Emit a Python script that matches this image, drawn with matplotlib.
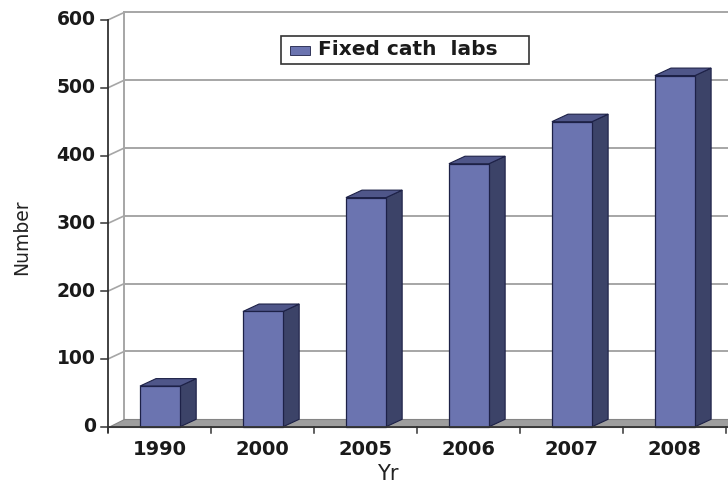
import matplotlib
matplotlib.use("Agg")
import matplotlib.pyplot as plt
from matplotlib.patches import Polygon, Rectangle

YEARS = ["1990", "2000", "2005", "2006", "2007", "2008"]
LABS = [60, 170, 338, 388, 450, 518]
Y_TICKS = [0, 100, 200, 300, 400, 500, 600]

FRONT = "#6b74b0"
SIDE = "#3c4368"
TOP = "#4f5689"
EDGE = "#1d2147"
GRID = "#a6a6a6"
FLOOR = "#9e9e9e"

# pseudo-3D depth offset, in data units
DX, DY = 0.156, 11.0
XMAX = 6.02
BAR_L, BAR_W = 0.31, 0.39

fig = plt.figure(figsize=(7.28, 4.83), dpi=100)
ax = fig.add_axes([0.1484, 0.0884, 0.8516, 0.9054])
ax.set_xlim(0, XMAX)
ax.set_ylim(-20, 625)
ax.axis("off")

# back wall gridlines plus the slanted lines across the left side wall
for v in Y_TICKS[1:]:
    ax.plot([DX, XMAX + DX], [v + DY, v + DY], color=GRID, lw=1.4, zorder=1, clip_on=False)
    ax.plot([0, DX], [v, v + DY], color=GRID, lw=1.2, zorder=1)
ax.plot([DX, DX], [DY, Y_TICKS[-1] + DY], color=GRID, lw=1.4, zorder=1)

# floor
ax.add_patch(Polygon([(0, 0), (XMAX + DX, 0), (XMAX + DX, DY), (DX, DY)],
                     closed=True, facecolor=FLOOR, edgecolor="#858585", lw=0.8,
                     zorder=2, clip_on=False))

# columns: front, top and side faces
for i, v in enumerate(LABS):
    x0 = i + BAR_L
    x1 = x0 + BAR_W
    ax.add_patch(Polygon([(x1, 0), (x1 + DX, DY), (x1 + DX, v + DY), (x1, v)],
                         closed=True, facecolor=SIDE, edgecolor=EDGE, lw=0.8, zorder=3))
    ax.add_patch(Polygon([(x0, v), (x1, v), (x1 + DX, v + DY), (x0 + DX, v + DY)],
                         closed=True, facecolor=TOP, edgecolor=EDGE, lw=0.8, zorder=3))
    ax.add_patch(Polygon([(x0, 0), (x1, 0), (x1, v), (x0, v)],
                         closed=True, facecolor=FRONT, edgecolor=EDGE, lw=0.9, zorder=4))

# axes lines and ticks
ax.plot([0, 0], [-8, Y_TICKS[-1]], color="#333333", lw=1.3, zorder=5, clip_on=False)
ax.plot([0, XMAX], [0, 0], color="#333333", lw=1.3, zorder=5, clip_on=False)
for v in Y_TICKS:
    ax.plot([-0.07, 0], [v, v], color="#333333", lw=1.1, zorder=5, clip_on=False)
    ax.text(-0.12, v, str(v), ha="right", va="center", fontsize=13.5,
            fontweight="bold", color="#1a1a1a")
for i in range(len(YEARS) + 1):
    ax.plot([i, i], [0, -9], color="#333333", lw=1.1, zorder=5, clip_on=False)
for i, yr in enumerate(YEARS):
    ax.text(i + 0.5, -33, yr, ha="center", va="center", fontsize=14,
            fontweight="bold", color="#1a1a1a")

ax.text(-0.84, 280, "Number", rotation=90, ha="center", va="center",
        fontsize=13.5, color="#222222")
ax.text(2.72, -79, "Yr", ha="center", va="baseline", fontsize=15, color="#222222")

# legend: framed box with a swatch and the series name
ax.add_patch(Rectangle((0.2797, 0.8608), 0.3995, 0.064, transform=ax.transAxes,
                       facecolor="white", edgecolor="#333333", lw=1.2, zorder=6))
ax.add_patch(Rectangle((0.2942, 0.8814), 0.0322, 0.0206, transform=ax.transAxes,
                       facecolor=FRONT, edgecolor=EDGE, lw=0.6, zorder=7))
ax.text(0.338, 0.8928, "Fixed cath  labs", transform=ax.transAxes, ha="left",
        va="center", fontsize=14.5, fontweight="bold", color="#1a1a1a", zorder=7)

fig.savefig("out.png", dpi=100)
